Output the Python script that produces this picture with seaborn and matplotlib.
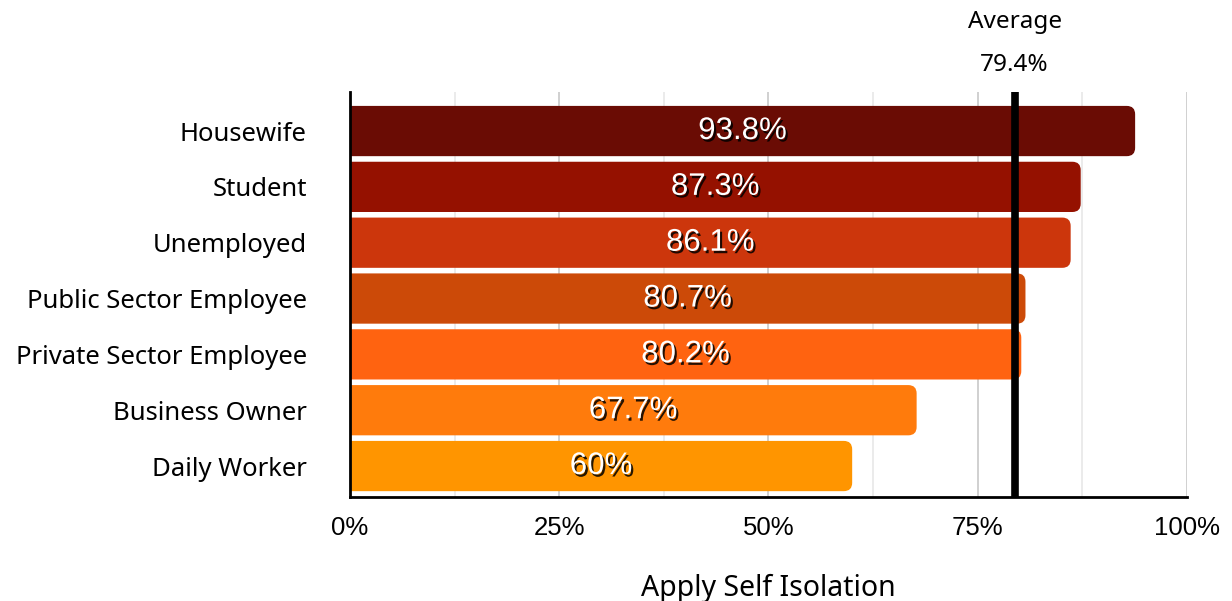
import matplotlib
matplotlib.use("Agg")
import matplotlib.pyplot as plt
import matplotlib.patheffects as pe
from matplotlib.patches import FancyBboxPatch
from matplotlib.ticker import MultipleLocator, FuncFormatter
import seaborn as sns
import pandas as pd

# -------------------------
# DATA
# -------------------------
categories = ["Housewife", "Student", "Unemployed", "Public Sector Employee",
              "Private Sector Employee", "Business Owner", "Daily Worker"]
values = [93.8, 87.3, 86.1, 80.7, 80.2, 67.7, 60.0]
value_labels = ["93.8%", "87.3%", "86.1%", "80.7%", "80.2%", "67.7%", "60%"]
bar_colors = ["#6a0c04", "#951100", "#cc360c", "#cc4a08", "#ff6310", "#ff7b0c", "#ff9500"]
average = 79.4

df = pd.DataFrame({"group": categories, "value": values})

# -------------------------
# FIGURE
# -------------------------
sns.set_style("white")
plt.rcParams["font.family"] = ["Noto Sans", "DejaVu Sans"]
plt.rcParams["text.color"] = "black"
plt.rcParams["xtick.color"] = "black"
plt.rcParams["ytick.color"] = "black"
plt.rcParams["axes.labelcolor"] = "black"

fig = plt.figure(figsize=(12.32, 6.01), dpi=100)
ax = fig.add_axes([0.284, 0.173, 0.6795, 0.674])

sns.barplot(data=df, x="value", y="group", hue="group", palette=bar_colors,
            saturation=1, width=0.9, legend=False, ax=ax, zorder=2)

# swap plain bars for bars with rounded right corners
for patch in list(ax.patches):
    x0, y0 = patch.get_x(), patch.get_y()
    w, h = patch.get_width(), patch.get_height()
    fc = patch.get_facecolor()
    patch.remove()
    ax.add_patch(FancyBboxPatch((x0 - 3, y0), w + 3, h,
                                boxstyle="round,pad=0,rounding_size=1",
                                mutation_aspect=0.15, facecolor=fc,
                                edgecolor="none", zorder=2))

# labels inside the bars
for i, (v, lab) in enumerate(zip(values, value_labels)):
    ax.text(v / 2, i, lab, ha="center", va="center", color="white",
            fontsize=22.5, family=["Liberation Sans", "DejaVu Sans"], zorder=4,
            path_effects=[pe.withSimplePatchShadow(offset=(1.5, -1.8),
                                                   shadow_rgbFace="black", alpha=0.85)])

# average line
ax.axvline(average, color="black", linewidth=5.5, zorder=3)
ax.text(average, 1.067, f"{average}%", transform=ax.get_xaxis_transform(),
        ha="center", va="center", fontsize=17.5)
ax.text(average, 1.173, "Average", transform=ax.get_xaxis_transform(),
        ha="center", va="center", fontsize=17.5)

# axes styling
ax.set_xlim(0, 100)
ax.set_ylim(6.555, -0.7)
ax.xaxis.set_major_locator(MultipleLocator(25))
ax.xaxis.set_minor_locator(MultipleLocator(12.5))
ax.xaxis.set_major_formatter(FuncFormatter(lambda x, p: f"{x:.0f}%"))
ax.grid(axis="x", which="major", color="#c8c8c8", linewidth=1.2, zorder=0)
ax.grid(axis="x", which="minor", color="#e8e8e8", linewidth=1.2, zorder=0)
ax.set_axisbelow(True)

for side in ["top", "right"]:
    ax.spines[side].set_visible(False)
for side in ["left", "bottom"]:
    ax.spines[side].set_color("black")
    ax.spines[side].set_linewidth(2)

ax.tick_params(axis="both", which="both", length=0)
ax.tick_params(axis="x", pad=14)
ax.tick_params(axis="y", pad=31)
for t in ax.get_xticklabels():
    t.set_fontsize(18.5)
    t.set_family(["Liberation Sans", "DejaVu Sans"])
for t in ax.get_yticklabels():
    t.set_fontsize(18.5)

ax.set_ylabel("")
ax.set_xlabel("Apply Self Isolation", fontsize=20.5, labelpad=24)

fig.savefig("out.png", dpi=100)
